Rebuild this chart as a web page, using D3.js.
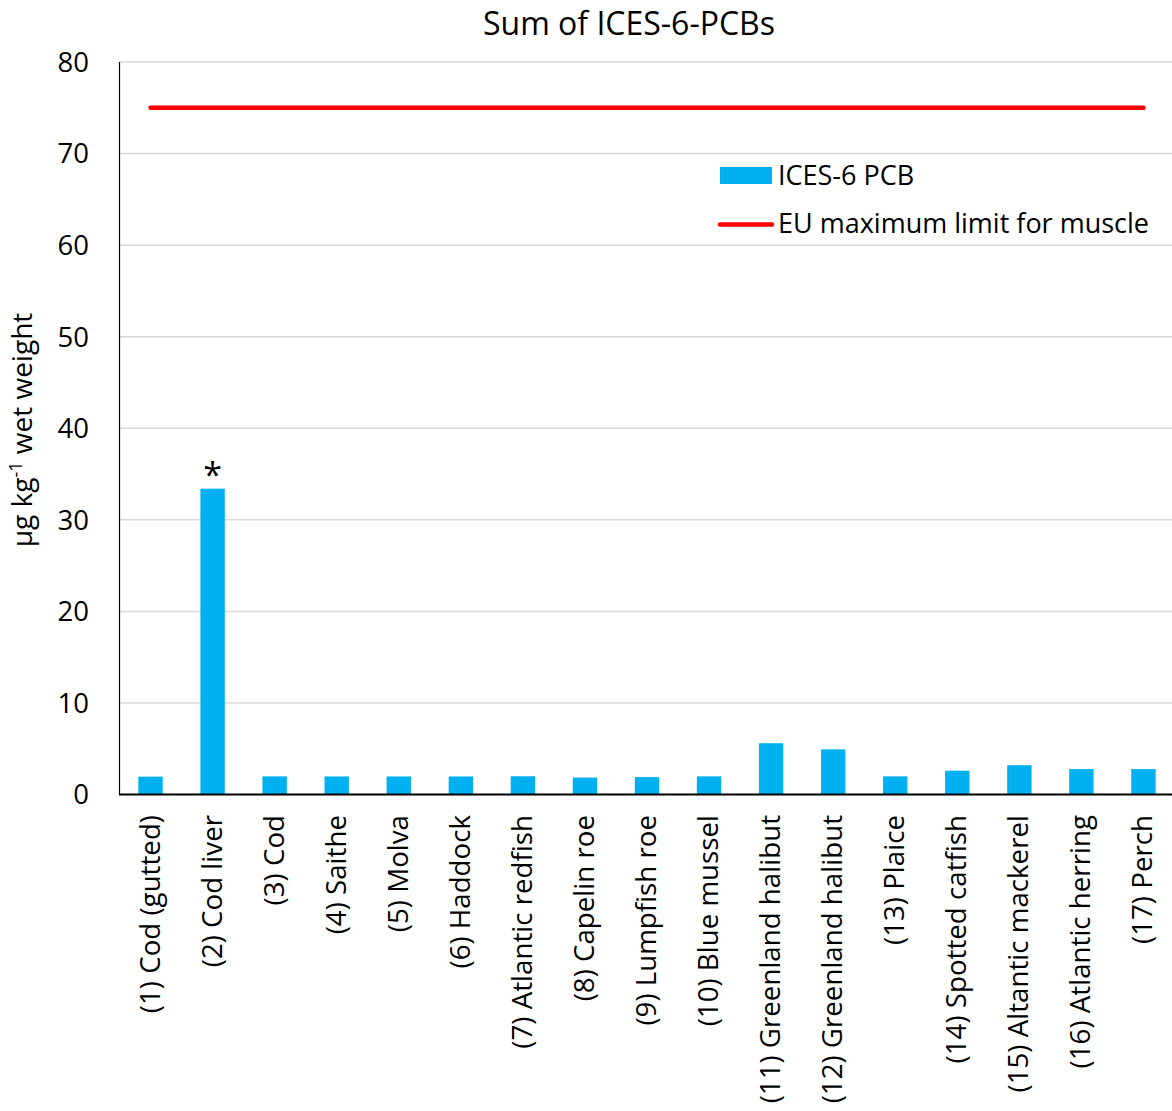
<!DOCTYPE html>
<html>
<head>
<meta charset="utf-8">
<script src="https://cdn.jsdelivr.net/npm/d3@7"></script>
<style>
  html, body { margin: 0; padding: 0; background: #fff; }
  svg { display: block; font-family: "Open Sans", sans-serif; }
</style>
</head>
<body>
<svg id="chart" width="1172" height="1111"></svg>
<script>
// Sample categories (x axis)
const categories = [
  "(1) Cod (gutted)", "(2) Cod liver", "(3) Cod", "(4) Saithe", "(5) Molva",
  "(6) Haddock", "(7) Atlantic redfish", "(8) Capelin roe", "(9) Lumpfish roe",
  "(10) Blue mussel", "(11) Greenland halibut", "(12) Greenland halibut",
  "(13) Plaice", "(14) Spotted catfish", "(15) Altantic mackerel",
  "(16) Atlantic herring", "(17) Perch"
];
// Sum of ICES-6 PCBs, µg/kg wet weight
const pcbValues = [1.95, 33.4, 1.98, 1.97, 1.97, 1.97, 1.99, 1.85, 1.9, 1.98,
                   5.6, 4.93, 1.98, 2.6, 3.2, 2.78, 2.78];
// EU maximum limit for muscle meat
const euLimit = 75;
// Samples flagged with an asterisk
const flagged = ["(2) Cod liver"];
const yTicks = [0, 10, 20, 30, 40, 50, 60, 70, 80];
const legendLabels = ["ICES-6 PCB", "EU maximum limit for muscle"];

const svg = d3.select("#chart");
const plotLeft = 119.5, plotRight = 1174.5, plotTop = 62, plotBottom = 794.5;

const x = d3.scaleBand().domain(categories).range([plotLeft, plotRight])
  .paddingInner(0.607).paddingOuter(0.3035);
const y = d3.scaleLinear().domain([0, 80]).range([plotBottom, plotTop]);
const cx = c => x(c) + x.bandwidth() / 2;

// Horizontal gridlines
svg.append("g").selectAll("line").data(yTicks.filter(t => t > 0)).join("line")
  .attr("x1", plotLeft).attr("x2", 1172)
  .attr("y1", d => y(d)).attr("y2", d => y(d))
  .attr("stroke", "#d9d9d9").attr("stroke-width", 1.5);

// Y tick labels
svg.append("g").selectAll("text").data(yTicks).join("text")
  .attr("x", 89).attr("y", d => y(d)).attr("dy", "0.36em")
  .attr("text-anchor", "end").attr("font-size", 27.5).attr("fill", "#000")
  .text(d => d);

// Bars
svg.append("g").selectAll("rect").data(pcbValues).join("rect")
  .attr("x", (d, i) => x(categories[i]))
  .attr("width", x.bandwidth())
  .attr("y", d => y(d))
  .attr("height", d => y(0) - y(d))
  .attr("fill", "#00b0f0");

// Asterisk markers
svg.append("g").selectAll("text").data(flagged).join("text")
  .attr("x", d => cx(d))
  .attr("y", d => y(pcbValues[categories.indexOf(d)]) - 2)
  .attr("text-anchor", "middle").attr("font-size", 34).text("*");

// EU limit line across categories
svg.append("line")
  .attr("x1", cx(categories[0])).attr("x2", cx(categories[categories.length - 1]))
  .attr("y1", y(euLimit)).attr("y2", y(euLimit))
  .attr("stroke", "#ff0000").attr("stroke-width", 4.5).attr("stroke-linecap", "round");

// Axis lines
svg.append("line").attr("x1", plotLeft).attr("x2", plotLeft).attr("y1", plotTop).attr("y2", plotBottom)
  .attr("stroke", "#000").attr("stroke-width", 1.2);
svg.append("line").attr("x1", plotLeft - 0.6).attr("x2", 1172).attr("y1", plotBottom).attr("y2", plotBottom)
  .attr("stroke", "#000").attr("stroke-width", 2);

// X category labels, rotated
svg.append("g").selectAll("text").data(categories).join("text")
  .attr("transform", d => `translate(${cx(d) + 9},815) rotate(-90)`)
  .attr("text-anchor", "end").attr("font-size", 27.7).text(d => d);

// Y axis title
const yt = svg.append("text")
  .attr("transform", "translate(32,430) rotate(-90)")
  .attr("text-anchor", "middle").attr("font-size", 28);
yt.append("tspan").text("µg kg");
yt.append("tspan").attr("dy", -10).attr("font-size", 18).text("-1");
yt.append("tspan").attr("dy", 10).text(" wet weight");

// Title
svg.append("text").attr("x", 629).attr("y", 35).attr("text-anchor", "middle")
  .attr("font-size", 32).text("Sum of ICES-6-PCBs");

// Legend
const lg = svg.append("g");
lg.append("rect").attr("x", 720).attr("y", 167).attr("width", 52).attr("height", 17).attr("fill", "#00b0f0");
lg.append("line").attr("x1", 720).attr("x2", 772).attr("y1", 224.5).attr("y2", 224.5)
  .attr("stroke", "#ff0000").attr("stroke-width", 4.5).attr("stroke-linecap", "round");
lg.selectAll("text").data(legendLabels).join("text")
  .attr("x", 778).attr("y", (d, i) => 185 + i * 48)
  .attr("font-size", 27).text(d => d);
</script>
</body>
</html>
